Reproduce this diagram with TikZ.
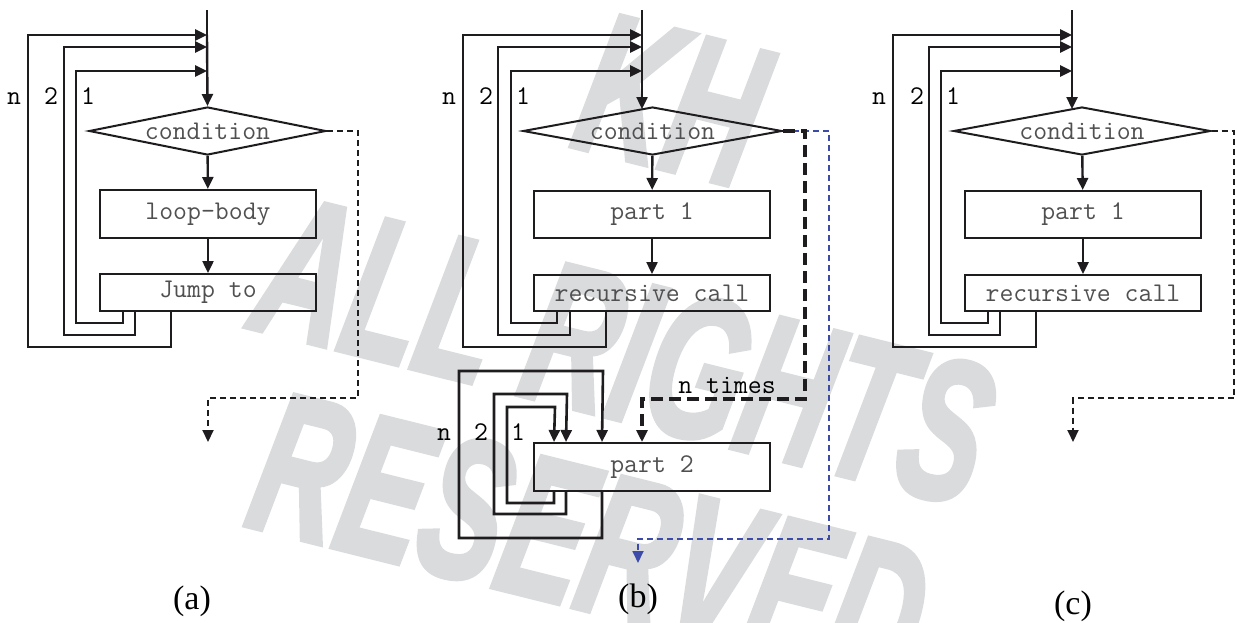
\documentclass[tikz,border=0pt]{standalone}
\usepackage{fontspec}
\setmainfont{Liberation Serif}
\newfontfamily\wmfont{Liberation Sans}[FakeBold=3]
\usetikzlibrary{shapes.geometric,arrows.meta}
\definecolor{lc}{RGB}{30,28,30}
\definecolor{tc}{RGB}{80,80,80}
\definecolor{wmc}{RGB}{218,219,221}
\definecolor{bluec}{RGB}{60,75,170}
\begin{document}
\begin{tikzpicture}[x=0.5pt,y=-0.5pt,
  arr/.style={-{Triangle[length=6pt,width=5.5pt]}},
  flow/.style={draw=lc,line width=1.2pt,arr},
  loopl/.style={draw=lc,line width=1.3pt,arr},
  box/.style={draw=lc,line width=1pt,rectangle,inner sep=0pt,
    font=\ttfamily\fontsize{13.5}{15}\selectfont,text=tc},
  cond/.style={diamond,draw=lc,line width=1pt,aspect=5,inner sep=0pt,
    minimum height=24pt,font=\ttfamily\fontsize{13.5}{15}\selectfont,text=tc},
  lab/.style={font=\ttfamily\fontsize{13.5}{15}\selectfont,text=black,anchor=base,inner sep=0pt},
  captxt/.style={font=\fontsize{17}{19}\selectfont,text=black,anchor=base,inner sep=0pt},
  dasha/.style={draw=lc,line width=1pt,dash pattern=on 3pt off 2pt,arr},
  dashb/.style={draw=lc,line width=1.7pt,dash pattern=on 6pt off 3pt,arr},
  dashblue/.style={draw=bluec,line width=0.9pt,dash pattern=on 3pt off 2pt,arr},
  wm/.style={font=\wmfont\bfseries\itshape\fontsize{100}{100}\selectfont,text=wmc,inner sep=0pt}
]
\useasboundingbox (0,0) rectangle (1237,622);

% watermark
\node[wm,rotate=-14,xscale=0.62] (wm1) at (672,100) {KH};
\node[wm,rotate=-14,xscale=0.62] (wm2) at (625,350) {ALL RIGHTS};
\node[wm,rotate=-14,xscale=0.62] (wm3) at (590,540) {RESERVED};

% ---------------- (a) ----------------
\coordinate (a-top) at (207,10);
\coordinate (a-en) at (207,35);
\coordinate (a-e2) at (207,47);
\coordinate (a-e1) at (207,71);
\coordinate (a-end) at (208,442);
\node[cond,minimum width=118.5pt] (cond-a) at (207.5,131) {condition};
\node[box,minimum width=108pt,minimum height=24pt] (body-a) at (208,214) {loop-body};
\node[box,minimum width=108pt,minimum height=18.5pt] (jump-a) at (208,292.5) {Jump to};
\draw[draw=lc,line width=1.2pt] (a-top) -- (a-en);
\draw[flow] (a-en) -- (cond-a.north);
\draw[flow] (cond-a) -- (body-a);
\draw[flow] (body-a) -- (jump-a);
\draw[loopl] ([xshift=12pt]jump-a.south west) |- (76,323) |- (a-e1);
\draw[loopl] ([xshift=18pt]jump-a.south west) |- (64,335) |- (a-e2);
\draw[loopl] ([xshift=36pt]jump-a.south west) |- (28,347) |- (a-en);
\draw[dasha] (cond-a.east) -| (358,398) -| (a-end);
\node[lab] (a-ln) at (14,104) {n};
\node[lab] (a-l2) at (51,104) {2};
\node[lab] (a-l1) at (88,104) {1};
\node[captxt] (cap-a) at (192,609) {(a)};

% ---------------- (b) ----------------
\coordinate (b-top) at (642,10);
\coordinate (b-en) at (642,35);
\coordinate (b-e2) at (642,47);
\coordinate (b-e1) at (642,71);
\coordinate (b-end) at (638,563);
\node[cond,minimum width=129.5pt] (cond-b) at (652.5,131) {condition};
\node[box,minimum width=118pt,minimum height=23.5pt] (part1-b) at (652,214.5) {part 1};
\node[box,minimum width=118pt,minimum height=18pt] (rec-b) at (652,293) {recursive call};
\node[box,minimum width=118pt,minimum height=24pt] (part2-b) at (652,467) {part 2};
\draw[dashblue] (cond-b.east) -| (829,539) -| (b-end);
\draw[draw=lc,line width=1.2pt] (b-top) -- (b-en);
\draw[flow] (b-en) -- (642,109);
\draw[flow] (cond-b) -- (part1-b);
\draw[flow] (part1-b) -- (rec-b);
\draw[loopl] ([xshift=12pt]rec-b.south west) |- (511,323) |- (b-e1);
\draw[loopl] ([xshift=18.5pt]rec-b.south west) |- (498,335) |- (b-e2);
\draw[loopl] ([xshift=36.5pt]rec-b.south west) |- (463,347) |- (b-en);
\draw[loopl] ([xshift=10.5pt]part2-b.south west) |- (507,503) |- (555,407) -- ([xshift=10.5pt]part2-b.north west);
\draw[loopl] ([xshift=16.5pt]part2-b.south west) |- (494,514) |- (567,394) -- ([xshift=16.5pt]part2-b.north west);
\draw[loopl] ([xshift=34.5pt]part2-b.south west) |- (459,538) |- (603,371) -- ([xshift=34.5pt]part2-b.north west);
\draw[dashb] (cond-b.east) -| (805,399) -| ([xshift=-5pt]part2-b.north);
\node[lab] (ntimes) at (727,393) {n times};
\node[lab] (b-ln) at (449,104) {n};
\node[lab] (b-l2) at (486,104) {2};
\node[lab] (b-l1) at (523,104) {1};
\node[lab] (b-mn) at (444,440) {n};
\node[lab] (b-m2) at (481,440) {2};
\node[lab] (b-m1) at (518,440) {1};
\node[captxt] (cap-b) at (638,607) {(b)};

% ---------------- (c) ----------------
\coordinate (c-top) at (1072,10);
\coordinate (c-en) at (1072,35);
\coordinate (c-e2) at (1072,47);
\coordinate (c-e1) at (1072,71);
\coordinate (c-end) at (1073,442);
\node[cond,minimum width=128.5pt] (cond-c) at (1082,131) {condition};
\node[box,minimum width=118pt,minimum height=23.5pt] (part1-c) at (1083,214.5) {part 1};
\node[box,minimum width=118pt,minimum height=18pt] (rec-c) at (1083,293) {recursive call};
\draw[draw=lc,line width=1.2pt] (c-top) -- (c-en);
\draw[flow] (c-en) -- (1072,109);
\draw[flow] (cond-c) -- (part1-c);
\draw[flow] (part1-c) -- (rec-c);
\draw[loopl] ([xshift=12pt]rec-c.south west) |- (941,323) |- (c-e1);
\draw[loopl] ([xshift=18pt]rec-c.south west) |- (929,335) |- (c-e2);
\draw[loopl] ([xshift=36pt]rec-c.south west) |- (893,347) |- (c-en);
\draw[dasha] (cond-c.east) -| (1234,398) -| (c-end);
\node[lab] (c-ln) at (879,104) {n};
\node[lab] (c-l2) at (917,104) {2};
\node[lab] (c-l1) at (953,104) {1};
\node[captxt] (cap-c) at (1073,614) {(c)};
\end{tikzpicture}
\end{document}
